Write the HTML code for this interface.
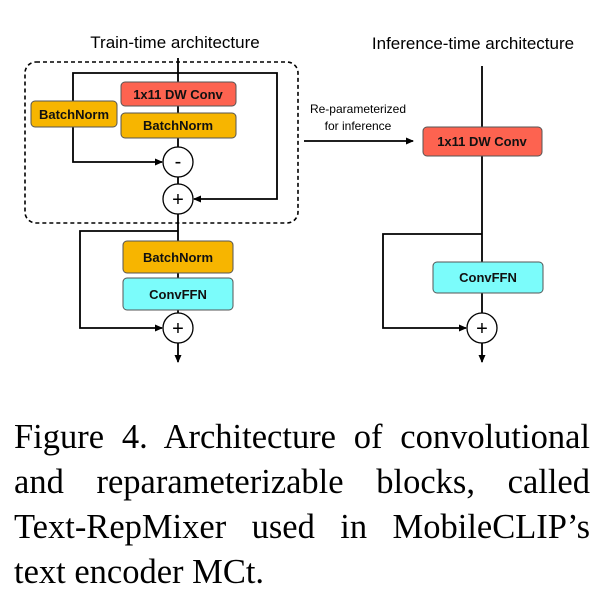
<!DOCTYPE html>
<html><head><meta charset="utf-8"><style>
html,body{margin:0;padding:0;background:#fff;width:613px;height:609px;overflow:hidden}
svg{position:absolute;left:0;top:0}
.cap{position:absolute;left:14px;width:576px;font-family:"Liberation Serif",serif;font-size:34.5px;line-height:45px;color:#000;text-align:justify;text-align-last:justify;white-space:nowrap}
</style></head><body>
<svg width="613" height="400" viewBox="0 0 613 400" font-family="Liberation Sans, sans-serif">
<defs><marker id="a" markerWidth="8" markerHeight="8" refX="7" refY="4" orient="auto" markerUnits="userSpaceOnUse"><path d="M0,0.5 L8,4 L0,7.5z" fill="#000"/></marker></defs>
<text x="175" y="48" font-size="17" text-anchor="middle">Train-time architecture</text>
<text x="473" y="49" font-size="17" text-anchor="middle">Inference-time architecture</text>
<rect x="25" y="62" width="273" height="161" rx="11" fill="none" stroke="#000" stroke-width="1.6" stroke-dasharray="4,3"/>
<g stroke="#000" stroke-width="1.8" fill="none">
<line x1="178" y1="58" x2="178" y2="147"/>
<polyline points="178,73 73,73 73,162 162,162" marker-end="url(#a)"/>
<polyline points="178,73 277,73 277,199 194,199" marker-end="url(#a)"/>
<line x1="178" y1="177" x2="178" y2="184"/>
<line x1="178" y1="214" x2="178" y2="313"/>
<polyline points="178,231 80,231 80,328 162,328" marker-end="url(#a)"/>
<line x1="178" y1="343" x2="178" y2="362" marker-end="url(#a)"/>
<line x1="482" y1="66" x2="482" y2="313"/>
<polyline points="482,234 383,234 383,328 466,328" marker-end="url(#a)"/>
<line x1="482" y1="343" x2="482" y2="362" marker-end="url(#a)"/>
<line x1="304" y1="141" x2="413" y2="141" marker-end="url(#a)"/>
</g>
<g stroke="#555" stroke-width="1">
<rect x="121" y="82" width="115" height="24" rx="4" fill="#fd6350"/>
<rect x="121" y="113" width="115" height="25" rx="4" fill="#f7b500"/>
<rect x="31" y="101" width="86" height="26" rx="4" fill="#f7b500"/>
<rect x="123" y="241" width="110" height="32" rx="4" fill="#f7b500"/>
<rect x="123" y="278" width="110" height="32" rx="4" fill="#7bfcfb"/>
<rect x="423" y="127" width="119" height="29" rx="4" fill="#fd6350"/>
<rect x="433" y="262" width="110" height="31" rx="4" fill="#7bfcfb"/>
</g>
<g stroke="#000" stroke-width="1.3" fill="#fff">
<circle cx="178" cy="162" r="15"/><circle cx="178" cy="199" r="15"/>
<circle cx="178" cy="328" r="15"/><circle cx="482" cy="328" r="15"/>
</g>
<g font-size="13" font-weight="bold" text-anchor="middle" fill="#111">
<text x="178" y="99">1x11 DW Conv</text>
<text x="178" y="130">BatchNorm</text>
<text x="74" y="119">BatchNorm</text>
<text x="178" y="262">BatchNorm</text>
<text x="178" y="299">ConvFFN</text>
<text x="482" y="146">1x11 DW Conv</text>
<text x="488" y="282">ConvFFN</text>
</g>
<g font-size="20" text-anchor="middle" fill="#000">
<text x="178" y="168">-</text><text x="178" y="206">+</text>
<text x="178" y="335">+</text><text x="482" y="335">+</text>
</g>
<text x="358" y="113" font-size="12" text-anchor="middle">Re-parameterized</text>
<text x="358" y="130" font-size="12" text-anchor="middle">for inference</text>
</svg>
<div class="cap" style="top:415px">Figure 4. Architecture of convolutional</div>
<div class="cap" style="top:460px">and reparameterizable blocks, called</div>
<div class="cap" style="top:505px">Text-RepMixer used in MobileCLIP’s</div>
<div class="cap" style="top:550px;text-align-last:left">text encoder MCt.</div>
</body></html>
